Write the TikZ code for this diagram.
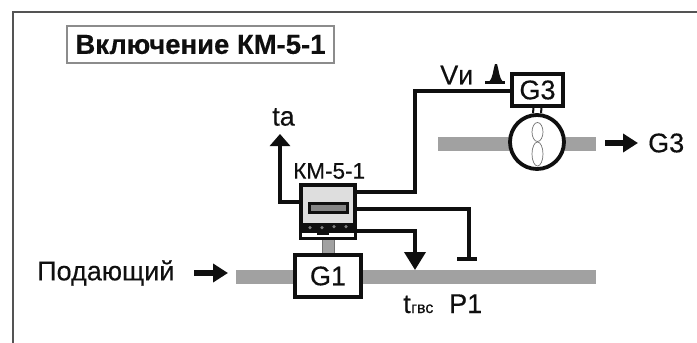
\documentclass[tikz,border=0pt]{standalone}
\usepackage{fontspec}
\setmainfont{Liberation Sans}
\newfontfamily\heavyfont[FakeBold=0.35]{Liberation Sans}
\newfontfamily\titlefont[FakeBold=0.3]{Liberation Sans Bold}
\usetikzlibrary{arrows.meta,shapes.geometric}
\definecolor{pipegray}{gray}{0.63}
\definecolor{framegray}{gray}{0.33}
\definecolor{inkblack}{gray}{0.06}
\tikzset{
  x=1pt,y=-1pt,
  pipe/.style={fill=pipegray,draw=none,inner sep=0pt,minimum height=14pt},
  wire/.style={draw=inkblack,line width=3.8pt,line join=miter},
  box/.style={draw=inkblack,line width=3.8pt,fill=white,inner sep=0pt},
  flowarrow/.style={draw=inkblack,line width=6pt,-{Triangle[length=15pt,width=18pt,fill=inkblack]}},
  headarrow/.style={wire,-{Triangle[length=18pt,width=21pt,fill=inkblack]}},
  tiparrow/.style={wire,-{Triangle[length=12pt,width=20pt,fill=inkblack]}},
  lbl/.style={text=inkblack,inner sep=0pt,font=\heavyfont\fontsize{27}{27}\selectfont},
  lblsmall/.style={text=inkblack,inner sep=0pt,font=\heavyfont\fontsize{22.5}{23}\selectfont},
  boxlbl/.style={text=inkblack,font=\heavyfont\fontsize{27}{27}\selectfont},
  lobe/.style={draw=black!55,line width=0.7pt,fill=white},
  keydot/.style={fill=black!50,circle,minimum size=3.5pt,inner sep=0pt},
}
\begin{document}
\begin{tikzpicture}
\useasboundingbox (0,0) rectangle (697,343);
\fill[white] (0,0) rectangle (697,343);
% frame
\draw[framegray,line width=2pt] (13,343) -- (13,12) -- (697,12);
% title
\node[draw=black!45,line width=1.2pt,minimum width=267pt,minimum height=37pt,inner sep=0pt,
      font=\titlefont\fontsize{27.5}{28}\selectfont,text=inkblack] (title) at (200.5,44.5) {Включение КМ-5-1};
% pipes
\node[pipe,minimum width=360pt] (pipeA) at (416,276.5) {};
\node[pipe,minimum width=158pt] (pipeB) at (517,144) {};
% coupling between meter and G1
\fill[pipegray] (322,238) rectangle (334,255);
\draw[black!55,line width=0.8pt] (322,238) -- (322,255) (334,238) -- (334,255);
% G1
\node[box,boxlbl,minimum width=66pt,minimum height=42pt] (g1) at (328,276) {G1};
% KM meter
\node[box,fill=black!13,minimum width=54pt,minimum height=53pt] (km) at (328,211.5) {};
\node[draw=inkblack,line width=3pt,fill=black!48,minimum width=38pt,minimum height=9pt,inner sep=0pt] (disp) at (328,207.5) {};
\node[fill=inkblack,minimum width=53pt,minimum height=10pt,inner sep=0pt] (keys) at (328,227.5) {};
\node[keydot] (k1) at (310,227.5) {};
\node[keydot] (k2) at (322,227.5) {};
\node[keydot] (k3) at (334,226.5) {};
\node[keydot] (k4) at (346,226.5) {};
\fill[white] (302,233) rectangle (354,237.3);
\fill[inkblack] (317,232) rectangle (329,235);
% flow meter G3
\node[box,boxlbl,minimum width=51pt,minimum height=32pt] (g3) at (537.5,90) {G3};
\node[box,circle,minimum size=54pt] (turb) at (537,142) {};
\draw[inkblack,line width=2pt] ([xshift=-4pt]g3.south) -- ([xshift=-4pt]turb.north);
\draw[inkblack,line width=2pt] ([xshift=4pt]g3.south) -- ([xshift=4pt]turb.north);
\node[lobe,ellipse,minimum width=11pt,minimum height=19pt,inner sep=0pt] (lobeA) at (537.5,132) {};
\node[lobe,ellipse,minimum width=11pt,minimum height=24pt,inner sep=0pt] (lobeB) at (537.5,154) {};
% labels
\node[lbl,anchor=west] (podlbl) at (37,273) {Подающий};
\node[lbl,anchor=west] (g3lbl) at (648,143) {G3};
\node[lbl,anchor=west] (talbl) at (272,117) {ta};
\node[lblsmall,anchor=west] (kmlbl) at (293,171) {КМ-5-1};
\node[lbl,anchor=west] (vilbl) at (440,75) {Vи};
\node[lbl,anchor=base west] (tlbl) at (403,313) {t\kern0.5pt{\fontsize{16}{16}\selectfont гвс}};
\node[lbl,anchor=base west] (p1lbl) at (449,313) {P1};
% flow arrows
\coordinate (inA) at (194,273);
\coordinate (inB) at (228,273);
\draw[flowarrow] (inA) -- (inB);
\coordinate (outA) at (605,143);
\coordinate (outB) at (638,143);
\draw[flowarrow] (outA) -- (outB);
% connectors
\coordinate (taTip) at (280,134);
\coordinate (kmL) at (km.west |- 0,202);
\draw[tiparrow] (kmL) -| (taTip);
\coordinate (kmR1) at (km.east |- 0,192);
\coordinate (g3L) at (g3.west |- 0,91);
\draw[wire] (kmR1) -- (415,192) -- (415,91) -- (g3L);
\coordinate (kmR2) at (km.east |- 0,209);
\coordinate (stopEnd) at (469,259);
\draw[wire] (kmR2) -| (stopEnd);
\coordinate (stopL) at (457,259);
\coordinate (stopR) at (477,259);
\draw[wire] (stopL) -- (stopR);
\coordinate (kmR3) at (km.east |- 0,231);
\coordinate (tTip) at (415,270);
\draw[headarrow] (kmR3) -| (tTip);
% pulse symbol
\coordinate (pulseA) at (485,82);
\coordinate (pulseB) at (505,82);
\draw[inkblack,line width=3pt] (pulseA) -- (pulseB);
\fill[inkblack] (489,82) .. controls (493,78) and (493,70) .. (495,64) -- (497,64) .. controls (499,70) and (499,78) .. (503,82) -- cycle;
\end{tikzpicture}
\end{document}
